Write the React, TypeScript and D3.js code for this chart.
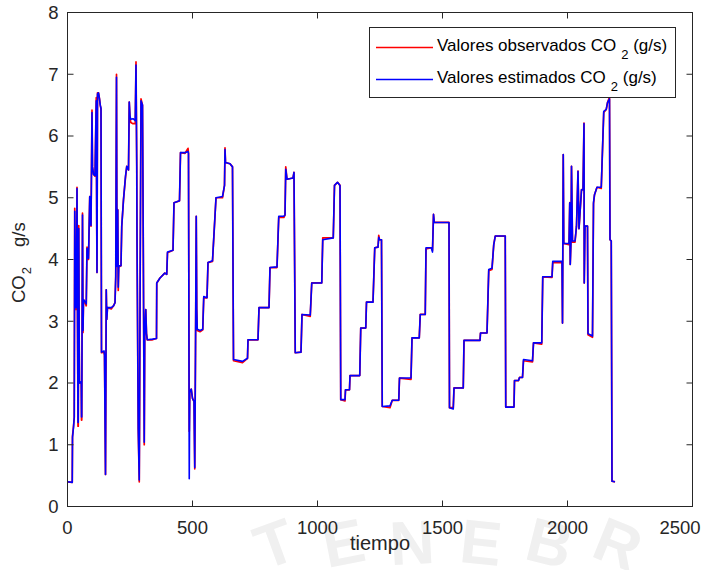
import React from "react";
import * as d3 from "d3";

// Time axis (s) and the two CO2 series
const tiempo = [
  0, 19, 20, 24, 27, 29, 31, 34, 36, 38, 40, 42, 43, 45, 47, 48, 55, 56, 57, 60,
  62, 64, 70, 75, 78, 80, 84, 89, 92, 94, 98, 100, 104, 110, 115, 117, 118, 120, 124, 128,
  131, 134, 136, 146, 148, 152, 155, 157, 160, 175, 184, 190, 193, 196, 198, 201, 203, 205, 214, 217,
  224, 232, 237, 244, 247, 250, 253, 262, 271, 274, 277, 278, 283, 287, 291, 294, 300, 303, 307, 309,
  313, 316, 319, 340, 356, 357, 370, 389, 397, 400, 422, 426, 448, 452, 470, 482, 484, 487, 489, 495,
  500, 506, 509, 512, 515, 517, 519, 530, 541, 545, 558, 562, 580, 594, 620, 628, 630, 632, 650, 660,
  664, 700, 720, 722, 762, 766, 806, 810, 838, 845, 865, 870, 873, 878, 902, 906, 911, 934, 938, 971,
  977, 1017, 1021, 1063, 1068, 1080, 1090, 1093, 1110, 1112, 1128, 1130, 1169, 1173, 1193, 1196, 1222, 1229, 1242, 1245,
  1248, 1256, 1259, 1290, 1299, 1325, 1328, 1374, 1378, 1407, 1411, 1431, 1434, 1455, 1460, 1464, 1467, 1526, 1528, 1543,
  1546, 1583, 1586, 1650, 1652, 1678, 1685, 1698, 1705, 1711, 1751, 1753, 1786, 1788, 1804, 1808, 1820, 1824, 1860, 1864,
  1897, 1901, 1938, 1941, 1978, 1980, 1983, 1985, 2006, 2009, 2011, 2014, 2016, 2020, 2030, 2036, 2042, 2046, 2056, 2062,
  2066, 2067, 2070, 2080, 2082, 2100, 2104, 2108, 2118, 2135, 2145, 2155, 2160, 2168, 2170, 2175, 2178, 2190,
];

const observados = [
  0.40, 0.39, 1.14, 1.30, 1.44, 4.83, 3.80, 3.19, 3.50, 5.17, 3.00, 1.30, 1.30, 4.55, 2.50, 2.00, 2.00, 1.40, 1.40, 4.75,
  2.82, 3.35, 3.30, 3.25, 4.20, 4.05, 4.00, 5.02, 4.60, 4.54, 6.42, 5.50, 5.38, 5.35, 6.62, 4.50, 3.79, 6.70, 6.70, 6.60,
  6.50, 6.43, 2.49, 2.50, 2.45, 0.52, 3.51, 3.03, 3.22, 3.20, 3.25, 3.30, 3.73, 7.00, 3.89, 4.81, 3.50, 3.88, 3.90, 4.54,
  4.97, 5.33, 5.51, 5.45, 6.55, 6.30, 6.22, 6.20, 6.20, 7.20, 5.50, 4.37, 1.25, 0.40, 4.00, 6.60, 6.50, 4.32, 1.00, 2.80,
  3.19, 2.80, 2.70, 2.70, 2.72, 3.62, 3.70, 3.78, 3.76, 4.11, 4.15, 4.92, 4.95, 5.73, 5.72, 5.80, 5.72, 1.22, 1.85, 1.90,
  1.75, 1.70, 0.61, 2.50, 4.70, 3.20, 2.85, 2.83, 2.86, 3.38, 3.38, 3.95, 3.97, 5.00, 5.00, 5.20, 5.81, 5.57, 5.55, 5.50,
  2.36, 2.33, 2.40, 2.70, 2.70, 3.22, 3.22, 3.87, 3.87, 4.68, 4.68, 4.72, 5.50, 5.30, 5.32, 5.41, 2.49, 2.50, 3.11, 3.08,
  3.62, 3.62, 4.35, 4.35, 5.20, 5.25, 5.20, 1.73, 1.71, 1.89, 1.89, 2.12, 2.12, 2.89, 2.89, 3.31, 3.31, 4.19, 4.20, 4.39,
  4.32, 4.32, 1.62, 1.60, 1.72, 1.72, 2.08, 2.06, 2.73, 2.73, 3.11, 3.11, 4.17, 4.19, 4.15, 4.73, 4.60, 4.60, 1.60, 1.60,
  1.92, 1.92, 2.69, 2.69, 2.81, 2.81, 3.82, 3.84, 4.24, 4.38, 4.38, 1.61, 1.61, 2.04, 2.04, 2.09, 2.09, 2.36, 2.34, 2.65,
  2.63, 3.72, 3.71, 3.95, 3.95, 2.97, 5.70, 4.26, 4.24, 4.92, 3.92, 4.30, 5.51, 4.28, 4.28, 4.54, 5.43, 4.50, 5.13, 5.13,
  6.21, 3.62, 4.54, 4.54, 2.78, 2.74, 4.90, 5.05, 5.17, 5.15, 6.38, 6.43, 6.54, 6.63, 4.32, 4.30, 0.41, 0.40,
];

const estimados = [
  0.40, 0.39, 1.12, 1.28, 1.45, 4.78, 3.85, 3.22, 3.55, 5.15, 3.05, 1.36, 1.36, 4.50, 2.55, 2.00, 2.02, 1.45, 1.45, 4.72,
  2.85, 3.35, 3.32, 3.28, 4.18, 4.06, 4.02, 5.02, 4.62, 4.55, 6.38, 5.50, 5.38, 5.36, 6.57, 4.50, 3.79, 6.68, 6.70, 6.60,
  6.50, 6.45, 2.50, 2.52, 2.45, 0.52, 3.51, 3.03, 3.22, 3.22, 3.25, 3.30, 3.73, 6.95, 3.89, 4.80, 3.55, 3.90, 3.90, 4.54,
  4.97, 5.35, 5.51, 5.45, 6.55, 6.32, 6.27, 6.28, 6.25, 7.15, 5.50, 4.37, 1.25, 0.43, 4.00, 6.57, 6.50, 4.32, 1.04, 2.80,
  3.19, 2.80, 2.70, 2.71, 2.72, 3.62, 3.70, 3.78, 3.76, 4.12, 4.15, 4.92, 4.95, 5.73, 5.73, 5.75, 5.72, 0.45, 1.85, 1.90,
  1.75, 1.70, 0.63, 2.50, 4.70, 3.20, 2.87, 2.85, 2.87, 3.40, 3.38, 3.95, 3.98, 5.00, 5.02, 5.20, 5.78, 5.57, 5.55, 5.50,
  2.38, 2.35, 2.40, 2.70, 2.70, 3.22, 3.22, 3.87, 3.88, 4.70, 4.70, 4.72, 5.46, 5.30, 5.32, 5.41, 2.49, 2.50, 3.11, 3.10,
  3.62, 3.62, 4.32, 4.35, 5.20, 5.25, 5.20, 1.73, 1.73, 1.89, 1.89, 2.12, 2.12, 2.89, 2.89, 3.31, 3.31, 4.19, 4.20, 4.36,
  4.32, 4.32, 1.62, 1.63, 1.72, 1.72, 2.08, 2.08, 2.73, 2.73, 3.11, 3.11, 4.19, 4.19, 4.12, 4.73, 4.60, 4.60, 1.60, 1.58,
  1.92, 1.92, 2.69, 2.69, 2.81, 2.81, 3.84, 3.86, 4.24, 4.38, 4.38, 1.61, 1.61, 2.04, 2.04, 2.09, 2.09, 2.38, 2.36, 2.65,
  2.65, 3.72, 3.72, 3.97, 3.97, 2.97, 5.70, 4.26, 4.26, 4.92, 3.92, 4.30, 5.51, 4.30, 4.30, 4.54, 5.43, 4.50, 5.13, 5.13,
  6.20, 3.62, 4.54, 4.54, 2.80, 2.76, 4.92, 5.05, 5.17, 5.17, 6.40, 6.43, 6.54, 6.60, 4.32, 4.30, 0.41, 0.40,
];

const xTicks = [0, 500, 1000, 1500, 2000, 2500];
const yTicks = [0, 1, 2, 3, 4, 5, 6, 7, 8];
const watermarkLetters = ["T", "E", "N", "E", "B", "R"];
const watermarkAngles = [-20, -11, -3, 6, 14, 22];

const FONT = "'Liberation Sans', Arial, Helvetica, sans-serif";
const AXIS = "#262626";

export default function App() {
  const W = 715;
  const H = 570;
  const x = d3.scaleLinear().domain([0, 2500]).range([67.5, 692.5]);
  const y = d3.scaleLinear().domain([0, 8]).range([506.5, 12.5]);
  const [x0, x1] = x.range();
  const [y0, y1] = y.range();

  const lineGen = (vals: number[]) =>
    d3
      .line<number>()
      .x((_, i) => x(tiempo[i]))
      .y((d) => y(d))(vals) as string;

  const wm = d3.scalePoint<number>().domain(d3.range(watermarkLetters.length)).range([282, 610]);

  const tickLen = 6;

  return (
    <div style={{ position: "absolute", left: 0, top: 0 }}>
      <svg width={W} height={H} viewBox={`0 0 ${W} ${H}`} style={{ display: "block", fontFamily: FONT }}>
        <rect x={0} y={0} width={W} height={H} fill="#ffffff" />
        {/* faint watermark */}
        {watermarkLetters.map((l, i) => (
          <text
            key={i}
            transform={`translate(${wm(i)},564) rotate(${watermarkAngles[i]})`}
            textAnchor="middle"
            fontSize={62}
            fontWeight="bold"
            fill="#f0f0f0"
          >
            {l}
          </text>
        ))}
        <rect x={x0} y={y1} width={x1 - x0} height={y0 - y1} fill="#ffffff" />

        {/* series */}
        <path d={lineGen(observados)} fill="none" stroke="#ff0000" strokeWidth={1.7} strokeLinejoin="round" />
        <path d={lineGen(estimados)} fill="none" stroke="#0000ff" strokeWidth={1.6} strokeLinejoin="round" />

        {/* axes box */}
        <rect x={x0} y={y1} width={x1 - x0} height={y0 - y1} fill="none" stroke={AXIS} strokeWidth={1} />
        {xTicks.map((t) => (
          <g key={"xt" + t}>
            <line x1={x(t)} x2={x(t)} y1={y0} y2={y0 - tickLen} stroke={AXIS} />
            <line x1={x(t)} x2={x(t)} y1={y1} y2={y1 + tickLen} stroke={AXIS} />
            <text x={Math.min(x(t), 680)} y={533.5} textAnchor="middle" fontSize={18.5} fill={AXIS}>
              {t}
            </text>
          </g>
        ))}
        {yTicks.map((t) => (
          <g key={"yt" + t}>
            <line x1={x0} x2={x0 + tickLen} y1={y(t)} y2={y(t)} stroke={AXIS} />
            <line x1={x1} x2={x1 - tickLen} y1={y(t)} y2={y(t)} stroke={AXIS} />
            <text x={58.5} y={y(t)} dy="0.35em" textAnchor="end" fontSize={18.5} fill={AXIS}>
              {t}
            </text>
          </g>
        ))}

        {/* axis labels */}
        <text x={(x0 + x1) / 2} y={550} textAnchor="middle" fontSize={20} fill={AXIS}>
          tiempo
        </text>
        <text transform="translate(25,303) rotate(-90)" fontSize={18.5} fill={AXIS}>
          CO
          <tspan fontSize={13} dy={6} dx={1}>
            2
          </tspan>
          <tspan x={56} dy={-6}>
            g/s
          </tspan>
        </text>

        {/* legend */}
        <g>
          <rect x={369.5} y={27.5} width={306} height={70} fill="#ffffff" stroke={AXIS} strokeWidth={1} />
          <line x1={376} x2={433} y1={47.5} y2={47.5} stroke="#ff0000" strokeWidth={1.3} />
          <line x1={376} x2={433} y1={79.5} y2={79.5} stroke="#0000ff" strokeWidth={1.3} />
          <text x={437} y={51} fontSize={17} fill="#000">
            Valores observados CO
            <tspan dx={5} dy={8} fontSize={13}>
              2
            </tspan>
            <tspan dy={-8}> (g/s)</tspan>
          </text>
          <text x={437} y={83} fontSize={17} fill="#000">
            Valores estimados CO
            <tspan dx={5} dy={8} fontSize={13}>
              2
            </tspan>
            <tspan dy={-8}> (g/s)</tspan>
          </text>
        </g>
      </svg>
    </div>
  );
}
